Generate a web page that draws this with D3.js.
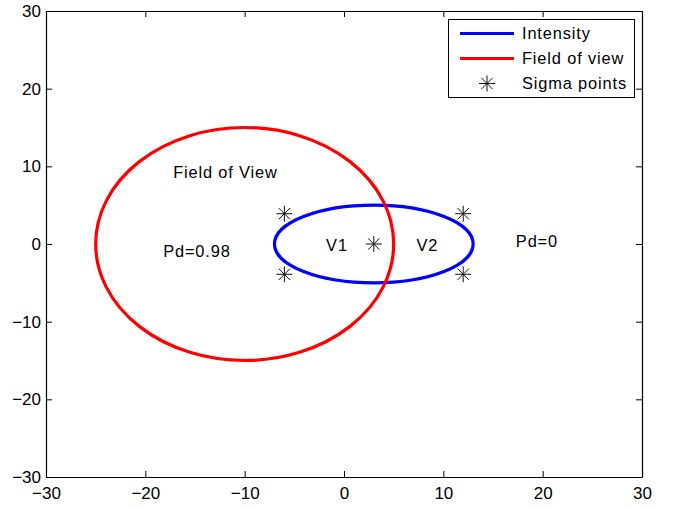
<!DOCTYPE html>
<html>
<head>
<meta charset="utf-8">
<script src="https://cdn.jsdelivr.net/npm/d3@7"></script>
<style>
  html, body { margin: 0; padding: 0; background: #fff; }
  svg text { font-family: "Liberation Sans", Arial, sans-serif; font-size: 16.4px; letter-spacing: 0.85px; fill: #000; }
  svg .tick text { font-size: 17px; letter-spacing: 0; }
</style>
</head>
<body>
<svg id="chart" width="674" height="509"></svg>
<script>
// Axis ranges and ticks
const xDomain = [-30, 30];
const yDomain = [-30, 30];
const xTicks = [-30, -20, -10, 0, 10, 20, 30];
const yTicks = [-30, -20, -10, 0, 10, 20, 30];

// Ellipses: [centerX, centerY, radiusX, radiusY]
const intensityEllipse = [3, 0, 10, 5];
const fieldOfViewEllipse = [-10, 0, 15, 15];

// Sigma points
const sigmaX = [-6, -6, 3, 12, 12];
const sigmaY = [3.9, -3.9, 0, 3.9, -3.9];

// Annotations
const noteText = ["Field of View", "Pd=0.98", "V1", "V2", "Pd=0"];
const noteX = [-17.2, -18.2, -1.8, 7.3, 17.3];
const noteY = [9.3, -0.9, -0.1, -0.1, 0.3];

// Legend
const legendLabels = ["Intensity", "Field of view", "Sigma points"];
const legendColors = ["#0000ff", "#ff0000", "#000"];

const svg = d3.select("#chart");
const plotLeft = 46, plotRight = 642, plotTop = 11, plotBottom = 477;
const x = d3.scaleLinear().domain(xDomain).range([plotLeft, plotRight]);
const y = d3.scaleLinear().domain(yDomain).range([plotBottom, plotTop]);
const tickLen = 6;

// Axes (ticks pointing inward, box on all sides)
svg.append("g").attr("transform", `translate(0,${plotBottom})`)
  .call(d3.axisBottom(x).tickValues(xTicks).tickSizeInner(-tickLen).tickSizeOuter(0).tickPadding(10).tickFormat(d3.format("")));
svg.append("g").attr("transform", `translate(${plotLeft},0)`)
  .call(d3.axisLeft(y).tickValues(yTicks).tickSizeInner(-tickLen).tickSizeOuter(0).tickPadding(5).tickFormat(d3.format("")));
svg.append("g").attr("transform", `translate(0,${plotTop})`)
  .call(d3.axisTop(x).tickValues(xTicks).tickSizeInner(-tickLen).tickSizeOuter(0).tickFormat(""));
svg.append("g").attr("transform", `translate(${plotRight},0)`)
  .call(d3.axisRight(y).tickValues(yTicks).tickSizeInner(-tickLen).tickSizeOuter(0).tickFormat(""));
svg.selectAll(".domain").attr("stroke", "#000").attr("stroke-width", 1.2);
svg.selectAll(".tick line").attr("stroke", "#000").attr("stroke-width", 1);
svg.selectAll("g").attr("font-family", null).attr("font-size", null);

// Ellipses
function drawEllipse(e, color) {
  svg.append("ellipse")
    .attr("cx", x(e[0])).attr("cy", y(e[1]))
    .attr("rx", x(e[0] + e[2]) - x(e[0]))
    .attr("ry", y(e[1]) - y(e[1] + e[3]))
    .attr("fill", "none").attr("stroke", color).attr("stroke-width", 3.2);
}
drawEllipse(intensityEllipse, legendColors[0]);
drawEllipse(fieldOfViewEllipse, legendColors[1]);

// Asterisk marker
function star(g, cx, cy, r) {
  const d = r * Math.SQRT1_2;
  const segs = [[-r, 0, r, 0], [0, -r, 0, r], [-d, -d, d, d], [-d, d, d, -d]];
  segs.forEach(s => g.append("line")
    .attr("x1", cx + s[0]).attr("y1", cy + s[1])
    .attr("x2", cx + s[2]).attr("y2", cy + s[3])
    .attr("stroke", "#111").attr("stroke-width", 1));
}
const sg = svg.append("g");
sigmaX.forEach((v, i) => star(sg, x(v), y(sigmaY[i]), 8));

// Annotations
svg.append("g").selectAll("text").data(noteText).join("text")
  .attr("x", (d, i) => x(noteX[i]))
  .attr("y", (d, i) => y(noteY[i]))
  .attr("dy", "0.35em")
  .text(d => d);

// Legend
const lg = svg.append("g");
lg.append("rect").attr("x", 448.5).attr("y", 19.5).attr("width", 186).attr("height", 78)
  .attr("fill", "#fff").attr("stroke", "#000").attr("stroke-width", 1);
legendLabels.forEach((lab, i) => {
  const cy = 33.5 + i * 25;
  if (i < 2) {
    lg.append("line").attr("x1", 460).attr("x2", 514).attr("y1", cy).attr("y2", cy)
      .attr("stroke", legendColors[i]).attr("stroke-width", 3.2);
  } else {
    star(lg, 487, cy, 8);
  }
  lg.append("text").attr("x", 522).attr("y", cy).attr("dy", "0.35em").text(lab);
});
</script>
</body>
</html>
